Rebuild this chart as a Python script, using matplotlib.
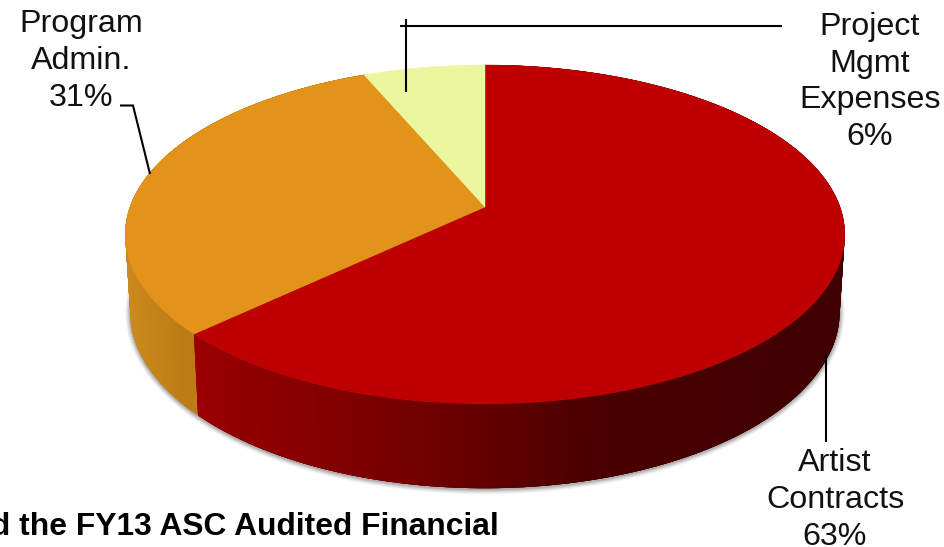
import numpy as np
import matplotlib
matplotlib.use("Agg")
import matplotlib.pyplot as plt
from matplotlib.collections import PolyCollection
from matplotlib.colors import to_rgb

categories = ["Artist\nContracts", "Program\nAdmin.", "Project\nMgmt\nExpenses"]
values = [63.0, 30.6, 6.4]
colors = ["#BE0000", "#E3921A", "#EBF79E"]
footer = "d the FY13 ASC Audited Financial"

plt.rcParams["font.family"] = ["Liberation Sans", "DejaVu Sans"]
fig = plt.figure(figsize=(9.45, 5.47), dpi=100)
ax = fig.add_axes([0, 0, 1, 1])
ax.set_xlim(0, 945)
ax.set_ylim(547, 0)
ax.axis("off")


def rim(theta, y0, a, d=355.0, c=0.162):
    """Perspective projection of a unit circle, theta clockwise from 12 o'clock."""
    u, v = np.sin(theta), np.cos(theta)
    den = 1 + c * v
    return 485 + d * u / den, y0 - a * v / den


TOP = (207.0, 165.0)
BOT = (283.0, 172.0)
edges = 2 * np.pi * np.cumsum([0] + values) / sum(values)

# soft shadow below the wall
t = np.linspace(0, 2 * np.pi, 400)
bx, by = rim(t, BOT[0], BOT[1], d=350.0)
for grow, alpha in zip([5, 4, 3, 2, 1], [0.05, 0.07, 0.09, 0.12, 0.16]):
    sx = 485 + (bx - 485) * (1 + grow / 352)
    sy = 311 + (by - 311) * (1 + grow / 176) + 1
    ax.fill(sx, sy, color="#404040", alpha=alpha, lw=0, zorder=1)


def shade(x, xs, cols):
    rgb = np.array([to_rgb(k) for k in cols])
    return tuple(np.interp(x, xs, rgb[:, i]) for i in range(3))


wall_stops = [
    ([195, 300, 400, 520, 620, 846], ["#9C0000", "#8A0000", "#7A0000", "#600000", "#4A0000", "#3E0000"]),
    ([130, 200], ["#CB8A1E", "#BC7A14"]),
]
# walls: thin strips painted from the slice's far end so each one overlaps the next,
# which hides the antialiased seams between them
for idx in [1, 0]:
    th = np.linspace(edges[idx], edges[idx + 1], 260)
    polys, fc = [], []
    for a0 in th[:-1]:
        a1 = edges[idx + 1]
        arc = np.linspace(a0, min(a0 + 0.06, a1), 6)
        x_t, y_t = rim(arc, *TOP)
        x_b, y_b = rim(arc, BOT[0], BOT[1], d=350.0)
        polys.append(np.c_[np.r_[x_t, x_b[::-1]], np.r_[y_t, y_b[::-1]]])
        xs, cols = wall_stops[idx]
        fc.append(shade(x_t[0], xs, cols))
    ax.add_collection(PolyCollection(polys[::-1], facecolors=fc[::-1], edgecolors="none", zorder=2))

# top face
for a0, a1, col in zip(edges[:-1], edges[1:], colors):
    th = np.linspace(a0, a1, 300)
    x, y = rim(th, *TOP)
    ax.fill(np.r_[485, x], np.r_[TOP[0], y], color=col, lw=0.3, zorder=3)

# leader lines
lk = dict(color="black", lw=1.5, zorder=4, solid_capstyle="butt", solid_joinstyle="miter")
ax.plot([120, 133, 150], [105.5, 105.5, 174], **lk)
ax.plot([405.5, 405.5], [19, 92], **lk)
ax.plot([400, 782], [26, 26], **lk)
ax.plot([826, 826], [353, 442], **lk)

# labels
fs = 23.2
tk = dict(fontsize=fs, ha="center", va="center", linespacing=1.3, color="#111111", zorder=5)
pct = [f"{v:.0f}%" for v in values]
ax.text(835, 500, f"{categories[0]}\n{pct[0]}", **tk)
ax.text(81, 61, f"{categories[1]}\n{pct[1]}", **tk)
ax.text(870, 82, f"{categories[2]}\n{pct[2]}", **tk)
ax.text(499, 527, footer, fontsize=22.9, fontweight="bold", ha="right", va="center", color="black", zorder=5)

fig.savefig("out.png", dpi=100, facecolor="white")
